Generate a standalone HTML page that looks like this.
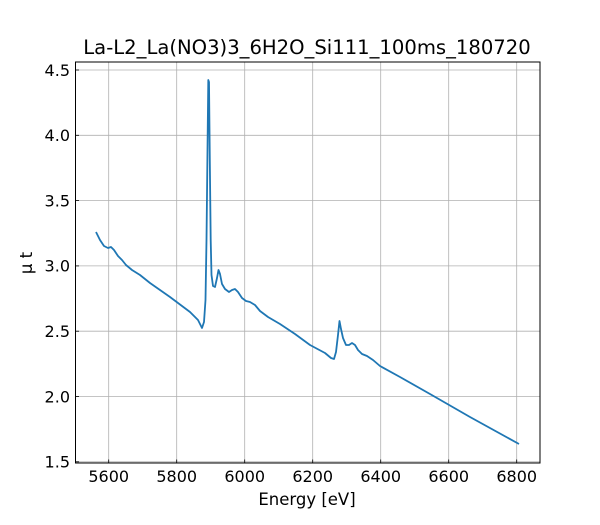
<!DOCTYPE html>
<html><head><meta charset="utf-8"><style>body{margin:0;background:#fff}</style></head><body>
<svg width="600" height="520" xmlns="http://www.w3.org/2000/svg" font-family="DejaVu Sans, Liberation Sans, sans-serif">
<g stroke="#b0b0b0" stroke-width="0.8">
<line x1="108.7" y1="62" x2="108.7" y2="463"/><line x1="176.7" y1="62" x2="176.7" y2="463"/><line x1="244.7" y1="62" x2="244.7" y2="463"/><line x1="312.7" y1="62" x2="312.7" y2="463"/><line x1="380.7" y1="62" x2="380.7" y2="463"/><line x1="448.7" y1="62" x2="448.7" y2="463"/><line x1="516.7" y1="62" x2="516.7" y2="463"/>
<line x1="75.5" y1="70" x2="540" y2="70"/><line x1="75.5" y1="135.3" x2="540" y2="135.3"/><line x1="75.5" y1="200.6" x2="540" y2="200.6"/><line x1="75.5" y1="265.9" x2="540" y2="265.9"/><line x1="75.5" y1="331.2" x2="540" y2="331.2"/><line x1="75.5" y1="396.5" x2="540" y2="396.5"/><line x1="75.5" y1="461.8" x2="540" y2="461.8"/>
</g>
<polyline fill="none" stroke="#1f77b4" stroke-width="1.8" stroke-linejoin="round" points="96,232 100,240 104,246 108,248 111,247 114,250 118,256 122,260 126,265 132,270 140,275 150,283 170,297 190,312 198,320 202,328 204,322 205.5,300 206.5,240 207.5,150 208.3,80 209,82 209.8,160 210.7,240 211.5,275 213,286 215,287 217,278 218.5,270 220,274 222,284 225,289 229,292 232,290 235,289 238,292 242,298 246,301 250,302 255,305 260,311 268,317 280,324 295,334 310,345 325,353 331,358 334,359 336,352 338,335 339.5,321 341,329 343,338 346,345 349,345 352,343 355,345 358,350 362,354 367,356 373,360 380,366 400,377 430,394 470,417 519,444"/>
<rect x="75.5" y="62" width="464.5" height="401" fill="none" stroke="#000" stroke-width="1"/>
<g stroke="#000" stroke-width="0.8">
<line x1="108.7" y1="463" x2="108.7" y2="459.5"/><line x1="176.7" y1="463" x2="176.7" y2="459.5"/><line x1="244.7" y1="463" x2="244.7" y2="459.5"/><line x1="312.7" y1="463" x2="312.7" y2="459.5"/><line x1="380.7" y1="463" x2="380.7" y2="459.5"/><line x1="448.7" y1="463" x2="448.7" y2="459.5"/><line x1="516.7" y1="463" x2="516.7" y2="459.5"/>
<line x1="75.5" y1="70" x2="79" y2="70"/><line x1="75.5" y1="135.3" x2="79" y2="135.3"/><line x1="75.5" y1="200.6" x2="79" y2="200.6"/><line x1="75.5" y1="265.9" x2="79" y2="265.9"/><line x1="75.5" y1="331.2" x2="79" y2="331.2"/><line x1="75.5" y1="396.5" x2="79" y2="396.5"/><line x1="75.5" y1="461.8" x2="79" y2="461.8"/>
</g>
<g font-size="16" fill="#000" text-anchor="middle">
<text x="108.7" y="482">5600</text><text x="176.7" y="482">5800</text><text x="244.7" y="482">6000</text><text x="312.7" y="482">6200</text><text x="380.7" y="482">6400</text><text x="448.7" y="482">6600</text><text x="516.7" y="482">6800</text>
</g>
<g font-size="16" fill="#000" text-anchor="end">
<text x="70" y="75.8">4.5</text><text x="70" y="141">4.0</text><text x="70" y="206.3">3.5</text><text x="70" y="271.7">3.0</text><text x="70" y="337">2.5</text><text x="70" y="402.3">2.0</text><text x="70" y="467.6">1.5</text>
</g>
<text x="307" y="505" font-size="16.5" text-anchor="middle">Energy [eV]</text>
<text transform="translate(32,263) rotate(-90)" font-size="16.5" text-anchor="middle">μ t</text>
<text x="307" y="54" font-size="19.6" text-anchor="middle">La-L2_La(NO3)3_6H2O_Si111_100ms_180720</text>
</svg>
</body></html>
